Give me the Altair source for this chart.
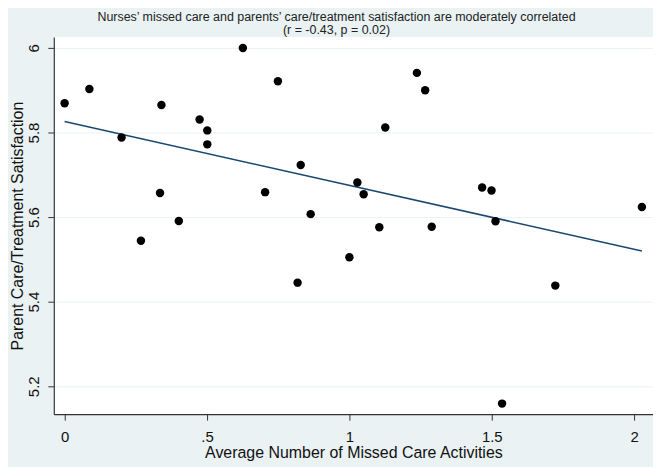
import altair as alt
import pandas as pd

missed_care = [0.0, 0.087, 0.2, 0.340, 0.335, 0.268, 0.401, 0.474, 0.501, 0.501,
               0.626, 0.749, 0.704, 0.829, 0.864, 0.818, 1.237, 1.266, 1.126, 1.028,
               1.050, 1.105, 1.289, 1.466, 1.499, 1.513, 2.027, 1.0, 1.723, 1.536]
satisfaction = [5.869, 5.903, 5.788, 5.865, 5.657, 5.544, 5.591, 5.831, 5.805, 5.772,
                6.000, 5.921, 5.659, 5.723, 5.607, 5.445, 5.941, 5.900, 5.812, 5.682,
                5.654, 5.576, 5.577, 5.670, 5.663, 5.590, 5.624, 5.505, 5.438, 5.159]

x_ticks = [0, 0.5, 1, 1.5, 2]
y_ticks = [5.2, 5.4, 5.6, 5.8, 6.0]

df = pd.DataFrame({"x": missed_care, "y": satisfaction})

FONT = "Liberation Sans"
BG = "#eaf2f3"

xenc = alt.X(
    "x:Q",
    scale=alt.Scale(domain=[-0.038, 2.066], nice=False, zero=False),
    axis=alt.Axis(
        values=x_ticks,
        labelExpr="datum.value == 0.5 ? '.5' : datum.value == 1.5 ? '1.5' : format(datum.value, '~g')",
        title="Average Number of Missed Care Activities",
        grid=False,
        tickSize=6,
        labelPadding=9,
        titlePadding=1,
    ),
)
yenc = alt.Y(
    "y:Q",
    scale=alt.Scale(domain=[5.134, 6.026], nice=False, zero=False),
    axis=alt.Axis(
        values=y_ticks,
        labelExpr="format(datum.value, '~g')",
        title="Parent Care/Treatment Satisfaction",
        grid=True,
        gridColor=BG,
        gridWidth=1,
        tickSize=6,
        labelAngle=270,
        labelPadding=6,
        titlePadding=1,
    ),
)

points = alt.Chart(df).mark_circle(size=72, color="black", opacity=1).encode(x=xenc, y=yenc)

fit = (
    alt.Chart(df)
    .transform_regression("x", "y", method="linear")
    .mark_line(color="#1a476f", strokeWidth=1.5)
    .encode(x=xenc, y=yenc)
)

chart = (
    alt.layer(fit, points)
    .properties(
        width=602,
        height=379,
        autosize=alt.AutoSizeParams(type="none"),
        padding={"left": 46, "top": 28, "right": 0, "bottom": 52},
        background=BG,
        title=alt.TitleParams(
            text=["Nurses\u2019 missed care and parents\u2019 care/treatment satisfaction are moderately correlated",
                  "(r = -0.43, p = 0.02)"],
            fontSize=12.5,
            fontWeight="normal",
            font=FONT,
            color="#222222",
            anchor="middle",
            dx=-17,
            offset=0,
            lineHeight=14,
        ),
    )
    .configure_view(fill="white", stroke=None)
    .configure_axis(
        labelFont=FONT,
        titleFont=FONT,
        labelFontSize=15,
        titleFontSize=16,
        titleFontWeight="normal",
        labelColor="#111111",
        titleColor="#111111",
        domainColor="#333333",
        tickColor="#333333",
        domainWidth=1.2,
    )
)

chart.save("out.html", embed_options={"renderer": "svg", "actions": False})
